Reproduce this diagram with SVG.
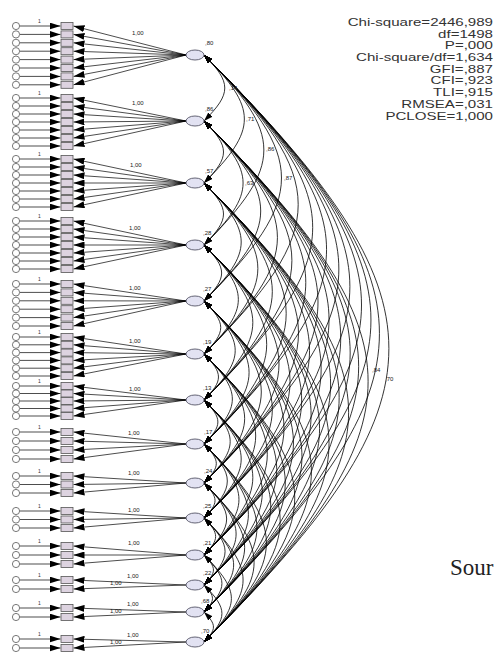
<svg xmlns="http://www.w3.org/2000/svg" width="499" height="655" viewBox="0 0 499 655">
<style>
.ld{stroke:#000;stroke-width:.7;marker-end:url(#ah)}
.cv{fill:none;stroke:#000;stroke-width:.8;marker-start:url(#ah2);marker-end:url(#ah2)}
.ind{fill:#ddd3e0;stroke:#555;stroke-width:.8}
.err{fill:#fff;stroke:#555;stroke-width:.8}
.lat{fill:#e2e2f2;stroke:#556;stroke-width:.9}
.t{font-family:"Liberation Sans",Arial,sans-serif;font-size:6px;fill:#222}
.s{font-family:"Liberation Sans",Arial,sans-serif;font-size:5px;fill:#333}
.st{font-family:"Liberation Sans",Arial,sans-serif;font-size:11px;fill:#333;text-anchor:end}
.src{font-family:"Liberation Serif","Times New Roman",serif;font-size:23px;fill:#222}
</style>
<defs>
<marker id="ah" viewBox="0 0 11 7" refX="11" refY="3.5" markerWidth="11" markerHeight="7" markerUnits="userSpaceOnUse" orient="auto"><path d="M0,0L11,3.5L0,7z"/></marker>
<marker id="ah2" viewBox="0 0 9 6" refX="9" refY="3" markerWidth="9" markerHeight="6" markerUnits="userSpaceOnUse" orient="auto-start-reverse"><path d="M0,0L9,3L0,6z"/></marker>
</defs>
<rect width="499" height="655" fill="#fff"/>

<g id="connectors">
<path class="cv" d="M204 55C231.7 82.7 231.7 93.3 204 121"/>
<path class="cv" d="M204 55C257.8 108.8 257.8 129.2 204 183"/>
<path class="cv" d="M204 55C283.8 134.8 283.8 165.2 204 245"/>
<path class="cv" d="M204 55C307.3 158.3 307.3 197.7 204 301"/>
<path class="cv" d="M204 55C329.6 180.6 329.6 228.4 204 354"/>
<path class="cv" d="M204 55C348.9 199.9 348.9 255.1 204 400"/>
<path class="cv" d="M204 55C367.4 218.4 367.4 280.6 204 444"/>
<path class="cv" d="M204 55C383.8 234.8 383.8 303.2 204 483"/>
<path class="cv" d="M204 55C398.5 249.5 398.5 323.5 204 518"/>
<path class="cv" d="M204 55C414 265 414 345 204 555"/>
<path class="cv" d="M204 55C426.6 277.6 426.6 362.4 204 585"/>
<path class="cv" d="M204 55C437.9 288.9 437.9 378.1 204 612"/>
<path class="cv" d="M204 55C450.5 301.5 450.5 395.5 204 642"/>
<path class="cv" d="M204 121C230 147 230 157 204 183"/>
<path class="cv" d="M204 121C256.1 173.1 256.1 192.9 204 245"/>
<path class="cv" d="M204 121C279.6 196.6 279.6 225.4 204 301"/>
<path class="cv" d="M204 121C301.9 218.9 301.9 256.1 204 354"/>
<path class="cv" d="M204 121C321.2 238.2 321.2 282.8 204 400"/>
<path class="cv" d="M204 121C339.7 256.7 339.7 308.3 204 444"/>
<path class="cv" d="M204 121C356 273 356 331 204 483"/>
<path class="cv" d="M204 121C370.7 287.7 370.7 351.3 204 518"/>
<path class="cv" d="M204 121C386.3 303.3 386.3 372.7 204 555"/>
<path class="cv" d="M204 121C398.9 315.9 398.9 390.1 204 585"/>
<path class="cv" d="M204 121C410.2 327.2 410.2 405.8 204 612"/>
<path class="cv" d="M204 121C422.8 339.8 422.8 423.2 204 642"/>
<path class="cv" d="M204 183C230 209 230 219 204 245"/>
<path class="cv" d="M204 183C253.6 232.6 253.6 251.4 204 301"/>
<path class="cv" d="M204 183C275.8 254.8 275.8 282.2 204 354"/>
<path class="cv" d="M204 183C295.1 274.1 295.1 308.9 204 400"/>
<path class="cv" d="M204 183C313.6 292.6 313.6 334.4 204 444"/>
<path class="cv" d="M204 183C330 309 330 357 204 483"/>
<path class="cv" d="M204 183C344.7 323.7 344.7 377.3 204 518"/>
<path class="cv" d="M204 183C360.2 339.2 360.2 398.8 204 555"/>
<path class="cv" d="M204 183C372.8 351.8 372.8 416.2 204 585"/>
<path class="cv" d="M204 183C384.2 363.2 384.2 431.8 204 612"/>
<path class="cv" d="M204 183C396.8 375.8 396.8 449.2 204 642"/>
<path class="cv" d="M204 245C227.5 268.5 227.5 277.5 204 301"/>
<path class="cv" d="M204 245C249.8 290.8 249.8 308.2 204 354"/>
<path class="cv" d="M204 245C269.1 310.1 269.1 334.9 204 400"/>
<path class="cv" d="M204 245C287.6 328.6 287.6 360.4 204 444"/>
<path class="cv" d="M204 245C304 345 304 383 204 483"/>
<path class="cv" d="M204 245C318.7 359.7 318.7 403.3 204 518"/>
<path class="cv" d="M204 245C334.2 375.2 334.2 424.8 204 555"/>
<path class="cv" d="M204 245C346.8 387.8 346.8 442.2 204 585"/>
<path class="cv" d="M204 245C358.1 399.1 358.1 457.9 204 612"/>
<path class="cv" d="M204 245C370.7 411.7 370.7 475.3 204 642"/>
<path class="cv" d="M204 301C226.3 323.3 226.3 331.7 204 354"/>
<path class="cv" d="M204 301C245.6 342.6 245.6 358.4 204 400"/>
<path class="cv" d="M204 301C264.1 361.1 264.1 383.9 204 444"/>
<path class="cv" d="M204 301C280.4 377.4 280.4 406.6 204 483"/>
<path class="cv" d="M204 301C295.1 392.1 295.1 426.9 204 518"/>
<path class="cv" d="M204 301C310.7 407.7 310.7 448.3 204 555"/>
<path class="cv" d="M204 301C323.3 420.3 323.3 465.7 204 585"/>
<path class="cv" d="M204 301C334.6 431.6 334.6 481.4 204 612"/>
<path class="cv" d="M204 301C347.2 444.2 347.2 498.8 204 642"/>
<path class="cv" d="M204 354C223.3 373.3 223.3 380.7 204 400"/>
<path class="cv" d="M204 354C241.8 391.8 241.8 406.2 204 444"/>
<path class="cv" d="M204 354C258.2 408.2 258.2 428.8 204 483"/>
<path class="cv" d="M204 354C272.9 422.9 272.9 449.1 204 518"/>
<path class="cv" d="M204 354C288.4 438.4 288.4 470.6 204 555"/>
<path class="cv" d="M204 354C301 451 301 488 204 585"/>
<path class="cv" d="M204 354C312.4 462.4 312.4 503.6 204 612"/>
<path class="cv" d="M204 354C325 475 325 521 204 642"/>
<path class="cv" d="M204 400C222.5 418.5 222.5 425.5 204 444"/>
<path class="cv" d="M204 400C238.9 434.9 238.9 448.1 204 483"/>
<path class="cv" d="M204 400C253.6 449.6 253.6 468.4 204 518"/>
<path class="cv" d="M204 400C269.1 465.1 269.1 489.9 204 555"/>
<path class="cv" d="M204 400C281.7 477.7 281.7 507.3 204 585"/>
<path class="cv" d="M204 400C293 489 293 523 204 612"/>
<path class="cv" d="M204 400C305.6 501.6 305.6 540.4 204 642"/>
<path class="cv" d="M204 444C220.4 460.4 220.4 466.6 204 483"/>
<path class="cv" d="M204 444C235.1 475.1 235.1 486.9 204 518"/>
<path class="cv" d="M204 444C250.6 490.6 250.6 508.4 204 555"/>
<path class="cv" d="M204 444C263.2 503.2 263.2 525.8 204 585"/>
<path class="cv" d="M204 444C274.6 514.6 274.6 541.4 204 612"/>
<path class="cv" d="M204 444C287.2 527.2 287.2 558.8 204 642"/>
<path class="cv" d="M204 483C218.7 497.7 218.7 503.3 204 518"/>
<path class="cv" d="M204 483C234.2 513.2 234.2 524.8 204 555"/>
<path class="cv" d="M204 483C246.8 525.8 246.8 542.2 204 585"/>
<path class="cv" d="M204 483C258.2 537.2 258.2 557.8 204 612"/>
<path class="cv" d="M204 483C270.8 549.8 270.8 575.2 204 642"/>
<path class="cv" d="M204 518C219.5 533.5 219.5 539.5 204 555"/>
<path class="cv" d="M204 518C232.1 546.1 232.1 556.9 204 585"/>
<path class="cv" d="M204 518C243.5 557.5 243.5 572.5 204 612"/>
<path class="cv" d="M204 518C256.1 570.1 256.1 589.9 204 642"/>
<path class="cv" d="M204 555C216.6 567.6 216.6 572.4 204 585"/>
<path class="cv" d="M204 555C227.9 578.9 227.9 588.1 204 612"/>
<path class="cv" d="M204 555C240.5 591.5 240.5 605.5 204 642"/>
<path class="cv" d="M204 585C215.3 596.3 215.3 600.7 204 612"/>
<path class="cv" d="M204 585C227.9 608.9 227.9 618.1 204 642"/>
<path class="cv" d="M204 612C216.6 624.6 216.6 629.4 204 642"/>
<line class="ld" x1="186" y1="55" x2="73.5" y2="26"/><line class="ld" x1="186" y1="55" x2="73.5" y2="34.4"/><line class="ld" x1="186" y1="55" x2="73.5" y2="42.8"/><line class="ld" x1="186" y1="55" x2="73.5" y2="51.2"/><line class="ld" x1="186" y1="55" x2="73.5" y2="59.6"/><line class="ld" x1="186" y1="55" x2="73.5" y2="68"/><line class="ld" x1="186" y1="55" x2="73.5" y2="76.4"/><line class="ld" x1="186" y1="55" x2="73.5" y2="84.8"/>
<line class="ld" x1="186" y1="121" x2="73.5" y2="98"/><line class="ld" x1="186" y1="121" x2="73.5" y2="106"/><line class="ld" x1="186" y1="121" x2="73.5" y2="114"/><line class="ld" x1="186" y1="121" x2="73.5" y2="122"/><line class="ld" x1="186" y1="121" x2="73.5" y2="130"/><line class="ld" x1="186" y1="121" x2="73.5" y2="138"/><line class="ld" x1="186" y1="121" x2="73.5" y2="146"/>
<line class="ld" x1="186" y1="183" x2="73.5" y2="159"/><line class="ld" x1="186" y1="183" x2="73.5" y2="167"/><line class="ld" x1="186" y1="183" x2="73.5" y2="175"/><line class="ld" x1="186" y1="183" x2="73.5" y2="183"/><line class="ld" x1="186" y1="183" x2="73.5" y2="191"/><line class="ld" x1="186" y1="183" x2="73.5" y2="199"/><line class="ld" x1="186" y1="183" x2="73.5" y2="207"/>
<line class="ld" x1="186" y1="245" x2="73.5" y2="221"/><line class="ld" x1="186" y1="245" x2="73.5" y2="229"/><line class="ld" x1="186" y1="245" x2="73.5" y2="237"/><line class="ld" x1="186" y1="245" x2="73.5" y2="245"/><line class="ld" x1="186" y1="245" x2="73.5" y2="253"/><line class="ld" x1="186" y1="245" x2="73.5" y2="261"/><line class="ld" x1="186" y1="245" x2="73.5" y2="269"/>
<line class="ld" x1="186" y1="301" x2="73.5" y2="284"/><line class="ld" x1="186" y1="301" x2="73.5" y2="292.4"/><line class="ld" x1="186" y1="301" x2="73.5" y2="300.8"/><line class="ld" x1="186" y1="301" x2="73.5" y2="309.2"/><line class="ld" x1="186" y1="301" x2="73.5" y2="317.6"/><line class="ld" x1="186" y1="301" x2="73.5" y2="326"/>
<line class="ld" x1="186" y1="354" x2="73.5" y2="337"/><line class="ld" x1="186" y1="354" x2="73.5" y2="344.8"/><line class="ld" x1="186" y1="354" x2="73.5" y2="352.6"/><line class="ld" x1="186" y1="354" x2="73.5" y2="360.4"/><line class="ld" x1="186" y1="354" x2="73.5" y2="368.2"/><line class="ld" x1="186" y1="354" x2="73.5" y2="376"/>
<line class="ld" x1="186" y1="400" x2="73.5" y2="386"/><line class="ld" x1="186" y1="400" x2="73.5" y2="393.5"/><line class="ld" x1="186" y1="400" x2="73.5" y2="401"/><line class="ld" x1="186" y1="400" x2="73.5" y2="408.5"/><line class="ld" x1="186" y1="400" x2="73.5" y2="416"/>
<line class="ld" x1="186" y1="444" x2="73.5" y2="432"/><line class="ld" x1="186" y1="444" x2="73.5" y2="441"/><line class="ld" x1="186" y1="444" x2="73.5" y2="450"/><line class="ld" x1="186" y1="444" x2="73.5" y2="459"/>
<line class="ld" x1="186" y1="483" x2="73.5" y2="476"/><line class="ld" x1="186" y1="483" x2="73.5" y2="484.5"/><line class="ld" x1="186" y1="483" x2="73.5" y2="493"/>
<line class="ld" x1="186" y1="518" x2="73.5" y2="511"/><line class="ld" x1="186" y1="518" x2="73.5" y2="519.5"/><line class="ld" x1="186" y1="518" x2="73.5" y2="528"/>
<line class="ld" x1="186" y1="555" x2="73.5" y2="546"/><line class="ld" x1="186" y1="555" x2="73.5" y2="555"/><line class="ld" x1="186" y1="555" x2="73.5" y2="564"/>
<line class="ld" x1="186" y1="585" x2="73.5" y2="580"/><line class="ld" x1="186" y1="585" x2="73.5" y2="589"/>
<line class="ld" x1="186" y1="612" x2="73.5" y2="608"/><line class="ld" x1="186" y1="612" x2="73.5" y2="617"/>
<line class="ld" x1="186" y1="642" x2="73.5" y2="639"/><line class="ld" x1="186" y1="642" x2="73.5" y2="648"/>
<g id="errpaths">
<line class="ld" x1="19.6" y1="26" x2="60.5" y2="26"/><line class="ld" x1="19.6" y1="34.4" x2="60.5" y2="34.4"/><line class="ld" x1="19.6" y1="42.8" x2="60.5" y2="42.8"/><line class="ld" x1="19.6" y1="51.2" x2="60.5" y2="51.2"/><line class="ld" x1="19.6" y1="59.6" x2="60.5" y2="59.6"/><line class="ld" x1="19.6" y1="68" x2="60.5" y2="68"/><line class="ld" x1="19.6" y1="76.4" x2="60.5" y2="76.4"/><line class="ld" x1="19.6" y1="84.8" x2="60.5" y2="84.8"/>
<line class="ld" x1="19.6" y1="98" x2="60.5" y2="98"/><line class="ld" x1="19.6" y1="106" x2="60.5" y2="106"/><line class="ld" x1="19.6" y1="114" x2="60.5" y2="114"/><line class="ld" x1="19.6" y1="122" x2="60.5" y2="122"/><line class="ld" x1="19.6" y1="130" x2="60.5" y2="130"/><line class="ld" x1="19.6" y1="138" x2="60.5" y2="138"/><line class="ld" x1="19.6" y1="146" x2="60.5" y2="146"/>
<line class="ld" x1="19.6" y1="159" x2="60.5" y2="159"/><line class="ld" x1="19.6" y1="167" x2="60.5" y2="167"/><line class="ld" x1="19.6" y1="175" x2="60.5" y2="175"/><line class="ld" x1="19.6" y1="183" x2="60.5" y2="183"/><line class="ld" x1="19.6" y1="191" x2="60.5" y2="191"/><line class="ld" x1="19.6" y1="199" x2="60.5" y2="199"/><line class="ld" x1="19.6" y1="207" x2="60.5" y2="207"/>
<line class="ld" x1="19.6" y1="221" x2="60.5" y2="221"/><line class="ld" x1="19.6" y1="229" x2="60.5" y2="229"/><line class="ld" x1="19.6" y1="237" x2="60.5" y2="237"/><line class="ld" x1="19.6" y1="245" x2="60.5" y2="245"/><line class="ld" x1="19.6" y1="253" x2="60.5" y2="253"/><line class="ld" x1="19.6" y1="261" x2="60.5" y2="261"/><line class="ld" x1="19.6" y1="269" x2="60.5" y2="269"/>
<line class="ld" x1="19.6" y1="284" x2="60.5" y2="284"/><line class="ld" x1="19.6" y1="292.4" x2="60.5" y2="292.4"/><line class="ld" x1="19.6" y1="300.8" x2="60.5" y2="300.8"/><line class="ld" x1="19.6" y1="309.2" x2="60.5" y2="309.2"/><line class="ld" x1="19.6" y1="317.6" x2="60.5" y2="317.6"/><line class="ld" x1="19.6" y1="326" x2="60.5" y2="326"/>
<line class="ld" x1="19.6" y1="337" x2="60.5" y2="337"/><line class="ld" x1="19.6" y1="344.8" x2="60.5" y2="344.8"/><line class="ld" x1="19.6" y1="352.6" x2="60.5" y2="352.6"/><line class="ld" x1="19.6" y1="360.4" x2="60.5" y2="360.4"/><line class="ld" x1="19.6" y1="368.2" x2="60.5" y2="368.2"/><line class="ld" x1="19.6" y1="376" x2="60.5" y2="376"/>
<line class="ld" x1="19.6" y1="386" x2="60.5" y2="386"/><line class="ld" x1="19.6" y1="393.5" x2="60.5" y2="393.5"/><line class="ld" x1="19.6" y1="401" x2="60.5" y2="401"/><line class="ld" x1="19.6" y1="408.5" x2="60.5" y2="408.5"/><line class="ld" x1="19.6" y1="416" x2="60.5" y2="416"/>
<line class="ld" x1="19.6" y1="432" x2="60.5" y2="432"/><line class="ld" x1="19.6" y1="441" x2="60.5" y2="441"/><line class="ld" x1="19.6" y1="450" x2="60.5" y2="450"/><line class="ld" x1="19.6" y1="459" x2="60.5" y2="459"/>
<line class="ld" x1="19.6" y1="476" x2="60.5" y2="476"/><line class="ld" x1="19.6" y1="484.5" x2="60.5" y2="484.5"/><line class="ld" x1="19.6" y1="493" x2="60.5" y2="493"/>
<line class="ld" x1="19.6" y1="511" x2="60.5" y2="511"/><line class="ld" x1="19.6" y1="519.5" x2="60.5" y2="519.5"/><line class="ld" x1="19.6" y1="528" x2="60.5" y2="528"/>
<line class="ld" x1="19.6" y1="546" x2="60.5" y2="546"/><line class="ld" x1="19.6" y1="555" x2="60.5" y2="555"/><line class="ld" x1="19.6" y1="564" x2="60.5" y2="564"/>
<line class="ld" x1="19.6" y1="580" x2="60.5" y2="580"/><line class="ld" x1="19.6" y1="589" x2="60.5" y2="589"/>
<line class="ld" x1="19.6" y1="608" x2="60.5" y2="608"/><line class="ld" x1="19.6" y1="617" x2="60.5" y2="617"/>
<line class="ld" x1="19.6" y1="639" x2="60.5" y2="639"/><line class="ld" x1="19.6" y1="648" x2="60.5" y2="648"/>
</g>
<g class="s">
<text x="38" y="23">1</text><text x="38" y="95">1</text><text x="38" y="156">1</text><text x="38" y="218">1</text><text x="38" y="281">1</text><text x="38" y="334">1</text><text x="38" y="383">1</text><text x="38" y="429">1</text><text x="38" y="473">1</text><text x="38" y="508">1</text><text x="38" y="543">1</text><text x="38" y="577">1</text><text x="38" y="605">1</text><text x="38" y="636">1</text>
</g>
<g class="t">
<text x="132" y="35">1,00</text><text x="132" y="105">1,00</text><text x="130" y="167">1,00</text><text x="129" y="230">1,00</text><text x="129" y="290">1,00</text><text x="129" y="343">1,00</text><text x="129" y="391">1,00</text><text x="128" y="435">1,00</text><text x="128" y="475">1,00</text><text x="128" y="512">1,00</text><text x="128" y="545">1,00</text>
<text x="110" y="585">1,00</text><text x="127" y="578">1,00</text>
<text x="110" y="613">1,00</text><text x="127" y="606">1,00</text>
<text x="110" y="644">1,00</text><text x="127" y="637">1,00</text>
<text x="229" y="90">,14</text><text x="246" y="121">,71</text><text x="266" y="151">,86</text><text x="245" y="185">,63</text><text x="284" y="180">,87</text>
<text x="372" y="372">,84</text><text x="385" y="381">,70</text>
</g>
</g>

<g id="F1"><ellipse class="lat" cx="195" cy="55" rx="9" ry="5"/><text class="t" x="205" y="45">,80</text></g>
<g id="F2"><ellipse class="lat" cx="195" cy="121" rx="9" ry="5"/><text class="t" x="205" y="111">,86</text></g>
<g id="F3"><ellipse class="lat" cx="195" cy="183" rx="9" ry="5"/><text class="t" x="205" y="173">,57</text></g>
<g id="F4"><ellipse class="lat" cx="195" cy="245" rx="9" ry="5"/><text class="t" x="203" y="235">,28</text></g>
<g id="F5"><ellipse class="lat" cx="195" cy="301" rx="9" ry="5"/><text class="t" x="203" y="291">,27</text></g>
<g id="F6"><ellipse class="lat" cx="195" cy="354" rx="9" ry="5"/><text class="t" x="203" y="344">,19</text></g>
<g id="F7"><ellipse class="lat" cx="195" cy="400" rx="9" ry="5"/><text class="t" x="203" y="390">,13</text></g>
<g id="F8"><ellipse class="lat" cx="195" cy="444" rx="9" ry="5"/><text class="t" x="204" y="434">,17</text></g>
<g id="F9"><ellipse class="lat" cx="195" cy="483" rx="9" ry="5"/><text class="t" x="204" y="473">,24</text></g>
<g id="F10"><ellipse class="lat" cx="195" cy="518" rx="9" ry="5"/><text class="t" x="203" y="508">,25</text></g>
<g id="F11"><ellipse class="lat" cx="195" cy="555" rx="9" ry="5"/><text class="t" x="203" y="545">,21</text></g>
<g id="F12"><ellipse class="lat" cx="195" cy="585" rx="9" ry="5"/><text class="t" x="203" y="575">,22</text></g>
<g id="F13"><ellipse class="lat" cx="195" cy="612" rx="9" ry="5"/><text class="t" x="201" y="603">,68</text></g>
<g id="F14"><ellipse class="lat" cx="195" cy="642" rx="9" ry="5"/><text class="t" x="201" y="633">,70</text></g>

<g id="indicators">
<g id="x1"><rect class="ind" x="61" y="22.5" width="12" height="7"/></g><g id="x2"><rect class="ind" x="61" y="30.9" width="12" height="7"/></g><g id="x3"><rect class="ind" x="61" y="39.3" width="12" height="7"/></g><g id="x4"><rect class="ind" x="61" y="47.7" width="12" height="7"/></g><g id="x5"><rect class="ind" x="61" y="56.1" width="12" height="7"/></g><g id="x6"><rect class="ind" x="61" y="64.5" width="12" height="7"/></g><g id="x7"><rect class="ind" x="61" y="72.9" width="12" height="7"/></g><g id="x8"><rect class="ind" x="61" y="81.3" width="12" height="7"/></g>
<g id="x9"><rect class="ind" x="61" y="94.5" width="12" height="7"/></g><g id="x10"><rect class="ind" x="61" y="102.5" width="12" height="7"/></g><g id="x11"><rect class="ind" x="61" y="110.5" width="12" height="7"/></g><g id="x12"><rect class="ind" x="61" y="118.5" width="12" height="7"/></g><g id="x13"><rect class="ind" x="61" y="126.5" width="12" height="7"/></g><g id="x14"><rect class="ind" x="61" y="134.5" width="12" height="7"/></g><g id="x15"><rect class="ind" x="61" y="142.5" width="12" height="7"/></g>
<g id="x16"><rect class="ind" x="61" y="155.5" width="12" height="7"/></g><g id="x17"><rect class="ind" x="61" y="163.5" width="12" height="7"/></g><g id="x18"><rect class="ind" x="61" y="171.5" width="12" height="7"/></g><g id="x19"><rect class="ind" x="61" y="179.5" width="12" height="7"/></g><g id="x20"><rect class="ind" x="61" y="187.5" width="12" height="7"/></g><g id="x21"><rect class="ind" x="61" y="195.5" width="12" height="7"/></g><g id="x22"><rect class="ind" x="61" y="203.5" width="12" height="7"/></g>
<g id="x23"><rect class="ind" x="61" y="217.5" width="12" height="7"/></g><g id="x24"><rect class="ind" x="61" y="225.5" width="12" height="7"/></g><g id="x25"><rect class="ind" x="61" y="233.5" width="12" height="7"/></g><g id="x26"><rect class="ind" x="61" y="241.5" width="12" height="7"/></g><g id="x27"><rect class="ind" x="61" y="249.5" width="12" height="7"/></g><g id="x28"><rect class="ind" x="61" y="257.5" width="12" height="7"/></g><g id="x29"><rect class="ind" x="61" y="265.5" width="12" height="7"/></g>
<g id="x30"><rect class="ind" x="61" y="280.5" width="12" height="7"/></g><g id="x31"><rect class="ind" x="61" y="288.9" width="12" height="7"/></g><g id="x32"><rect class="ind" x="61" y="297.3" width="12" height="7"/></g><g id="x33"><rect class="ind" x="61" y="305.7" width="12" height="7"/></g><g id="x34"><rect class="ind" x="61" y="314.1" width="12" height="7"/></g><g id="x35"><rect class="ind" x="61" y="322.5" width="12" height="7"/></g>
<g id="x36"><rect class="ind" x="61" y="333.5" width="12" height="7"/></g><g id="x37"><rect class="ind" x="61" y="341.3" width="12" height="7"/></g><g id="x38"><rect class="ind" x="61" y="349.1" width="12" height="7"/></g><g id="x39"><rect class="ind" x="61" y="356.9" width="12" height="7"/></g><g id="x40"><rect class="ind" x="61" y="364.7" width="12" height="7"/></g><g id="x41"><rect class="ind" x="61" y="372.5" width="12" height="7"/></g>
<g id="x42"><rect class="ind" x="61" y="382.5" width="12" height="7"/></g><g id="x43"><rect class="ind" x="61" y="390" width="12" height="7"/></g><g id="x44"><rect class="ind" x="61" y="397.5" width="12" height="7"/></g><g id="x45"><rect class="ind" x="61" y="405" width="12" height="7"/></g><g id="x46"><rect class="ind" x="61" y="412.5" width="12" height="7"/></g>
<g id="x47"><rect class="ind" x="61" y="428.5" width="12" height="7"/></g><g id="x48"><rect class="ind" x="61" y="437.5" width="12" height="7"/></g><g id="x49"><rect class="ind" x="61" y="446.5" width="12" height="7"/></g><g id="x50"><rect class="ind" x="61" y="455.5" width="12" height="7"/></g>
<g id="x51"><rect class="ind" x="61" y="472.5" width="12" height="7"/></g><g id="x52"><rect class="ind" x="61" y="481" width="12" height="7"/></g><g id="x53"><rect class="ind" x="61" y="489.5" width="12" height="7"/></g>
<g id="x54"><rect class="ind" x="61" y="507.5" width="12" height="7"/></g><g id="x55"><rect class="ind" x="61" y="516" width="12" height="7"/></g><g id="x56"><rect class="ind" x="61" y="524.5" width="12" height="7"/></g>
<g id="x57"><rect class="ind" x="61" y="542.5" width="12" height="7"/></g><g id="x58"><rect class="ind" x="61" y="551.5" width="12" height="7"/></g><g id="x59"><rect class="ind" x="61" y="560.5" width="12" height="7"/></g>
<g id="x60"><rect class="ind" x="61" y="576.5" width="12" height="7"/></g><g id="x61"><rect class="ind" x="61" y="585.5" width="12" height="7"/></g>
<g id="x62"><rect class="ind" x="61" y="604.5" width="12" height="7"/></g><g id="x63"><rect class="ind" x="61" y="613.5" width="12" height="7"/></g>
<g id="x64"><rect class="ind" x="61" y="635.5" width="12" height="7"/></g><g id="x65"><rect class="ind" x="61" y="644.5" width="12" height="7"/></g>
</g>

<g id="errors">
<g id="e1"><circle class="err" cx="16" cy="26" r="3.6"/></g><g id="e2"><circle class="err" cx="16" cy="34.4" r="3.6"/></g><g id="e3"><circle class="err" cx="16" cy="42.8" r="3.6"/></g><g id="e4"><circle class="err" cx="16" cy="51.2" r="3.6"/></g><g id="e5"><circle class="err" cx="16" cy="59.6" r="3.6"/></g><g id="e6"><circle class="err" cx="16" cy="68" r="3.6"/></g><g id="e7"><circle class="err" cx="16" cy="76.4" r="3.6"/></g><g id="e8"><circle class="err" cx="16" cy="84.8" r="3.6"/></g>
<g id="e9"><circle class="err" cx="16" cy="98" r="3.6"/></g><g id="e10"><circle class="err" cx="16" cy="106" r="3.6"/></g><g id="e11"><circle class="err" cx="16" cy="114" r="3.6"/></g><g id="e12"><circle class="err" cx="16" cy="122" r="3.6"/></g><g id="e13"><circle class="err" cx="16" cy="130" r="3.6"/></g><g id="e14"><circle class="err" cx="16" cy="138" r="3.6"/></g><g id="e15"><circle class="err" cx="16" cy="146" r="3.6"/></g>
<g id="e16"><circle class="err" cx="16" cy="159" r="3.6"/></g><g id="e17"><circle class="err" cx="16" cy="167" r="3.6"/></g><g id="e18"><circle class="err" cx="16" cy="175" r="3.6"/></g><g id="e19"><circle class="err" cx="16" cy="183" r="3.6"/></g><g id="e20"><circle class="err" cx="16" cy="191" r="3.6"/></g><g id="e21"><circle class="err" cx="16" cy="199" r="3.6"/></g><g id="e22"><circle class="err" cx="16" cy="207" r="3.6"/></g>
<g id="e23"><circle class="err" cx="16" cy="221" r="3.6"/></g><g id="e24"><circle class="err" cx="16" cy="229" r="3.6"/></g><g id="e25"><circle class="err" cx="16" cy="237" r="3.6"/></g><g id="e26"><circle class="err" cx="16" cy="245" r="3.6"/></g><g id="e27"><circle class="err" cx="16" cy="253" r="3.6"/></g><g id="e28"><circle class="err" cx="16" cy="261" r="3.6"/></g><g id="e29"><circle class="err" cx="16" cy="269" r="3.6"/></g>
<g id="e30"><circle class="err" cx="16" cy="284" r="3.6"/></g><g id="e31"><circle class="err" cx="16" cy="292.4" r="3.6"/></g><g id="e32"><circle class="err" cx="16" cy="300.8" r="3.6"/></g><g id="e33"><circle class="err" cx="16" cy="309.2" r="3.6"/></g><g id="e34"><circle class="err" cx="16" cy="317.6" r="3.6"/></g><g id="e35"><circle class="err" cx="16" cy="326" r="3.6"/></g>
<g id="e36"><circle class="err" cx="16" cy="337" r="3.6"/></g><g id="e37"><circle class="err" cx="16" cy="344.8" r="3.6"/></g><g id="e38"><circle class="err" cx="16" cy="352.6" r="3.6"/></g><g id="e39"><circle class="err" cx="16" cy="360.4" r="3.6"/></g><g id="e40"><circle class="err" cx="16" cy="368.2" r="3.6"/></g><g id="e41"><circle class="err" cx="16" cy="376" r="3.6"/></g>
<g id="e42"><circle class="err" cx="16" cy="386" r="3.6"/></g><g id="e43"><circle class="err" cx="16" cy="393.5" r="3.6"/></g><g id="e44"><circle class="err" cx="16" cy="401" r="3.6"/></g><g id="e45"><circle class="err" cx="16" cy="408.5" r="3.6"/></g><g id="e46"><circle class="err" cx="16" cy="416" r="3.6"/></g>
<g id="e47"><circle class="err" cx="16" cy="432" r="3.6"/></g><g id="e48"><circle class="err" cx="16" cy="441" r="3.6"/></g><g id="e49"><circle class="err" cx="16" cy="450" r="3.6"/></g><g id="e50"><circle class="err" cx="16" cy="459" r="3.6"/></g>
<g id="e51"><circle class="err" cx="16" cy="476" r="3.6"/></g><g id="e52"><circle class="err" cx="16" cy="484.5" r="3.6"/></g><g id="e53"><circle class="err" cx="16" cy="493" r="3.6"/></g>
<g id="e54"><circle class="err" cx="16" cy="511" r="3.6"/></g><g id="e55"><circle class="err" cx="16" cy="519.5" r="3.6"/></g><g id="e56"><circle class="err" cx="16" cy="528" r="3.6"/></g>
<g id="e57"><circle class="err" cx="16" cy="546" r="3.6"/></g><g id="e58"><circle class="err" cx="16" cy="555" r="3.6"/></g><g id="e59"><circle class="err" cx="16" cy="564" r="3.6"/></g>
<g id="e60"><circle class="err" cx="16" cy="580" r="3.6"/></g><g id="e61"><circle class="err" cx="16" cy="589" r="3.6"/></g>
<g id="e62"><circle class="err" cx="16" cy="608" r="3.6"/></g><g id="e63"><circle class="err" cx="16" cy="617" r="3.6"/></g>
<g id="e64"><circle class="err" cx="16" cy="639" r="3.6"/></g><g id="e65"><circle class="err" cx="16" cy="648" r="3.6"/></g>
</g>

<g id="fit" transform="translate(493 0) scale(1.37 1)">
<text class="st" x="0" y="26">Chi-square=2446,989</text>
<text class="st" x="0" y="37.7">df=1498</text>
<text class="st" x="0" y="49.4">P=,000</text>
<text class="st" x="0" y="61.1">Chi-square/df=1,634</text>
<text class="st" x="0" y="72.8">GFI=,887</text>
<text class="st" x="0" y="84.5">CFI=,923</text>
<text class="st" x="0" y="96.2">TLI=,915</text>
<text class="st" x="0" y="107.9">RMSEA=,031</text>
<text class="st" x="0" y="119.6">PCLOSE=1,000</text>
</g>
<text class="src" x="450" y="575">Sour</text>
</svg>
